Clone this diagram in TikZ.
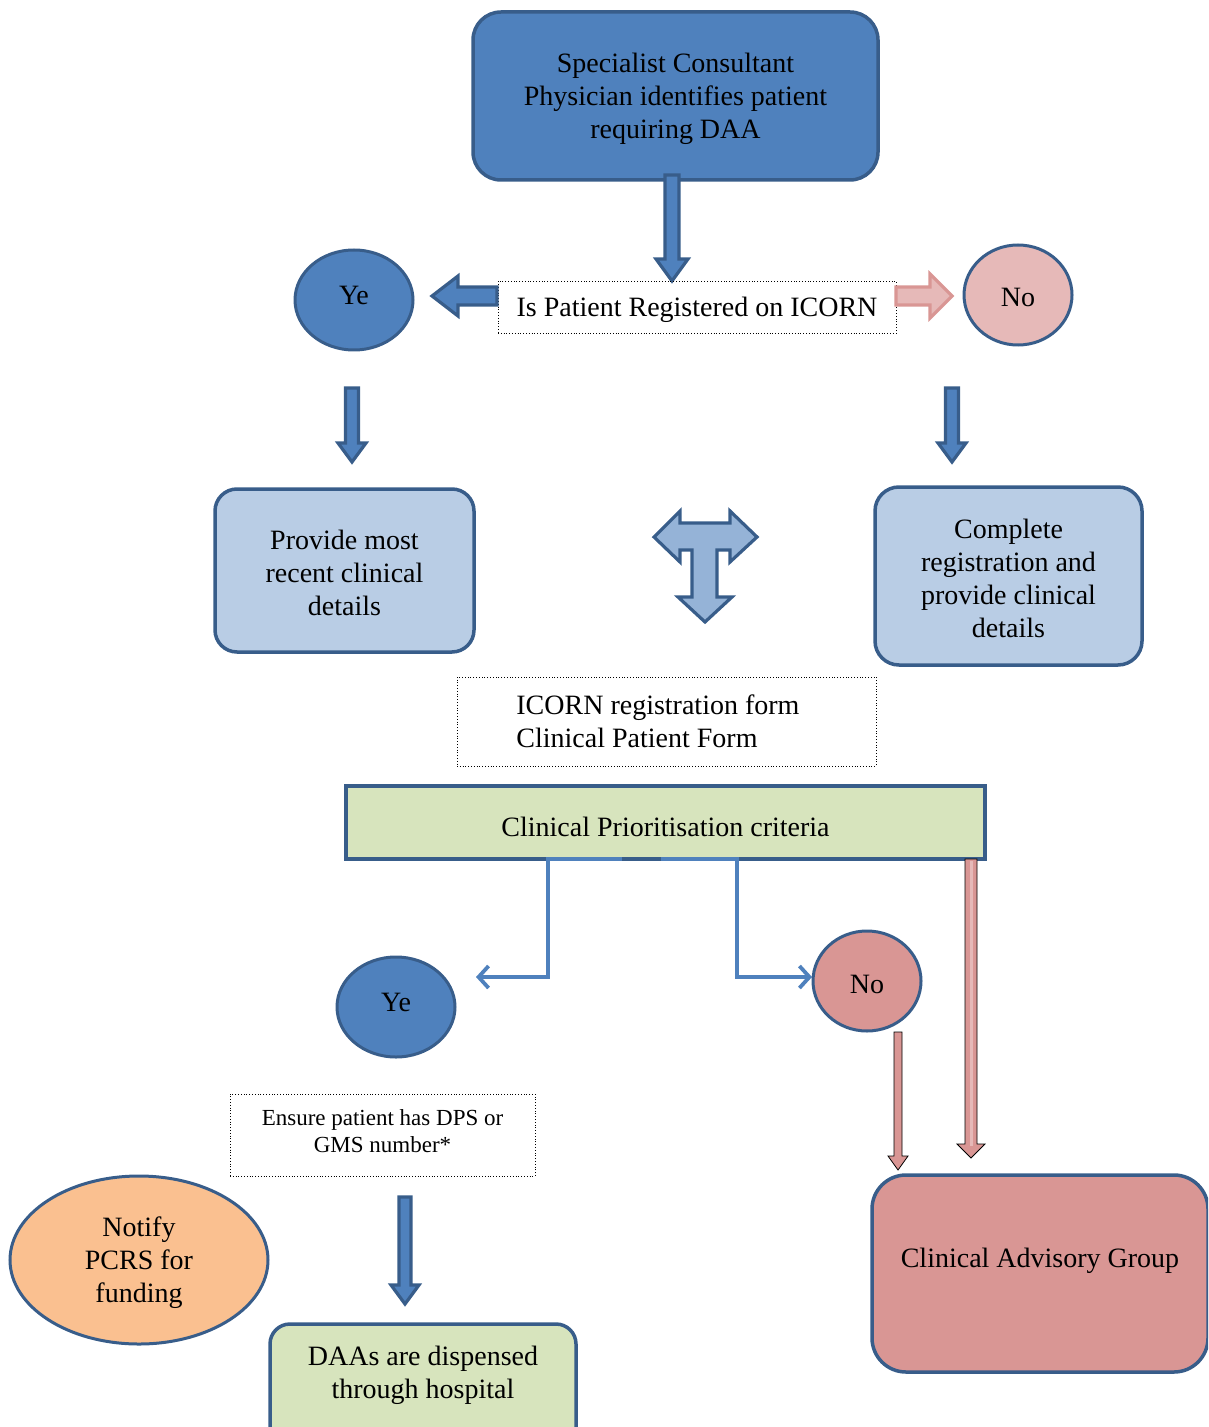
\documentclass[tikz,border=0pt]{standalone}
\usepackage{fontspec}
\setmainfont{Liberation Serif}
\usetikzlibrary{shapes.geometric,arrows.meta}
\definecolor{bfill}{HTML}{4F81BD}
\definecolor{bdark}{HTML}{385D8A}
\definecolor{lblue}{HTML}{B9CDE5}
\definecolor{tblue}{HTML}{95B3D7}
\definecolor{pinkl}{HTML}{E6B9B8}
\definecolor{pinkm}{HTML}{D99694}
\definecolor{gfill}{HTML}{D7E4BD}
\definecolor{ofill}{HTML}{FAC090}
% x, ytop, ytip, shaft half, head half, head length, style
\newcommand\downarr[7]{%
  \draw[#7] ({#1-#4},#2) -- ({#1+#4},#2) -- ({#1+#4},{#3-#6}) -- ({#1+#5},{#3-#6})
    -- (#1,#3) -- ({#1-#5},{#3-#6}) -- ({#1-#4},{#3-#6}) -- cycle;}
\begin{document}
\begin{tikzpicture}[x=0.5pt,y=-0.5pt,
  txt/.style={font=\fontsize{14}{16.5}\selectfont, align=center, inner sep=0pt, yshift=-1.3pt},
  smalltxt/.style={font=\fontsize{11.5}{13.5}\selectfont, align=center, inner sep=0pt, yshift=-0.8pt},
  rbox/.style={draw=bdark, line width=1.75pt, rectangle},
  oval/.style={draw=bdark, line width=1.5pt, ellipse, inner sep=0pt},
  dotbox/.style={draw=black, densely dotted, line width=0.4pt, rectangle, inner sep=0pt},
  barrow/.style={fill=bfill, draw=bdark, line width=1.6pt, line join=miter},
  parrow/.style={fill=pinkl, draw=pinkm, line width=1.6pt, line join=miter},
  conn/.style={draw=bfill, line width=1.9pt, -{Straight Barb[length=5pt,width=11pt,line width=1.9pt]}}
]
\useasboundingbox (0,0) rectangle (1208,1427);
\clip (0,0) rectangle (1208,1427);

% top box
\node[rbox, fill=bfill, rounded corners=14pt, minimum width=202.5pt, minimum height=84pt] (top) at (675.5,96) {};
\node[txt] (topt) at (675.5,96) {Specialist Consultant\\Physician identifies patient\\requiring DAA};
\downarr{672}{175}{281}{7}{16}{22}{barrow}

% question
\node[dotbox, minimum width=199pt, minimum height=26pt] (q) at (697,307) {};
\node[txt] (qt) at (697,307) {Is Patient Registered on ICORN};

% left/right block arrows
\draw[barrow] (497,287) -- (458,287) -- (458,276) -- (432,296) -- (458,316) -- (458,305) -- (497,305) -- cycle;
\draw[parrow] (896,287) -- (930,287) -- (930,274) -- (952,296) -- (930,318) -- (930,305) -- (896,305) -- cycle;

% yes / no circles
\node[oval, fill=bfill, minimum width=59pt, minimum height=50pt] (yes1) at (354,300) {};
\node[txt] (yes1t) at (354,293) {Ye};
\node[oval, fill=pinkl, minimum width=54pt, minimum height=50pt] (no1) at (1018,295) {};
\node[txt] (no1t) at (1018,295) {No};

% down arrows
\downarr{352}{388}{462}{6.5}{14}{19}{barrow}
\downarr{952}{388}{462}{6.5}{14}{19}{barrow}

% light boxes
\node[rbox, fill=lblue, rounded corners=11pt, minimum width=129.5pt, minimum height=81.5pt] (prov) at (344.5,570.5) {};
\node[txt] (provt) at (344.5,570.5) {Provide most\\recent clinical\\details};
\node[rbox, fill=lblue, rounded corners=12pt, minimum width=133.5pt, minimum height=89pt] (comp) at (1008.5,576) {};
\node[txt] (compt) at (1008.5,576) {Complete\\registration and\\provide clinical\\details};

% T arrow
\draw[fill=tblue, draw=bdark, line width=1.6pt, line join=miter]
  (692,597) -- (678,597) -- (705,622) -- (732,597) -- (717,597) -- (717,550) -- (730,550)
  -- (730,562) -- (757,537) -- (730,511) -- (730,523) -- (680,523) -- (680,511) -- (654,537)
  -- (680,562) -- (680,550) -- (692,550) -- cycle;

% form box
\node[dotbox, minimum width=209.5pt, minimum height=44.5pt] (form) at (666.5,721.5) {};
\node[txt, anchor=west, align=left] (formt) at (516,719) {ICORN registration form\\Clinical Patient Form};

% green bar
\node[rbox, fill=gfill, minimum width=319.5pt, minimum height=36.5pt] (bar) at (665.5,822.5) {};
\node[txt] (bart) at (665.5,824) {Clinical Prioritisation criteria};

% pink double arrow from bar
\downarr{971}{859}{1158}{6}{14}{14}{fill=pinkm}
\draw[pinkl, line width=1.5pt] (971,861) -- (971,1146);

% thin blue connectors
\coordinate (c1) at (622,859);
\coordinate (c1e) at (476,977);
\coordinate (c2) at (661,859);
\coordinate (c2e) at (812,977);
\draw[conn] (c1) -- (548,859) -- (548,977) -- (c1e);
\draw[conn] (c2) -- (737,859) -- (737,977) -- (c2e);

% yes2 / no2
\node[oval, fill=bfill, minimum width=59pt, minimum height=50pt] (yes2) at (396,1007) {};
\node[txt] (yes2t) at (396,1000) {Ye};
\node[oval, fill=pinkm, minimum width=54pt, minimum height=50pt] (no2) at (867,981) {};
\node[txt] (no2t) at (867,982) {No};

% pink thin arrow
\downarr{898}{1032}{1170}{4}{10}{14}{fill=pinkm}

% CAG
\node[rbox, fill=pinkm, rounded corners=17pt, minimum width=168pt, minimum height=98.5pt] (cag) at (1040,1273.5) {};
\node[txt] (cagt) at (1040,1258) {Clinical Advisory Group};

% ensure box
\node[dotbox, minimum width=152.5pt, minimum height=41pt] (ens) at (382.5,1135) {};
\node[smalltxt] (enst) at (382.5,1130) {Ensure patient has DPS or\\GMS number*};

\downarr{405}{1197}{1304}{6}{14}{19}{barrow}

% notify
\node[oval, fill=ofill, minimum width=129pt, minimum height=84pt] (notify) at (139,1260) {};
\node[txt] (notifyt) at (139,1260) {Notify\\PCRS for\\funding};

% DAAs box
\node[rbox, fill=gfill, rounded corners=10pt, minimum width=153pt, minimum height=62pt] (daa) at (423,1386) {};
\node[txt] (daat) at (423,1373) {DAAs are dispensed\\through hospital};
\end{tikzpicture}
\end{document}
